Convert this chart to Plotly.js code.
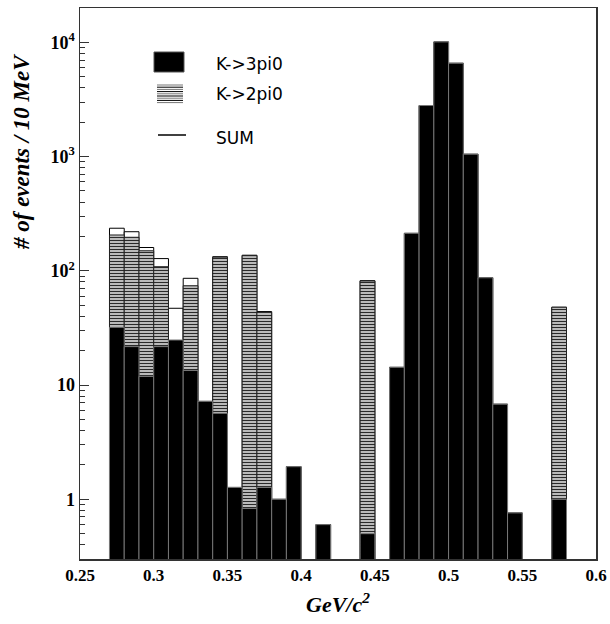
<!DOCTYPE html>
<html>
<head>
<meta charset="utf-8">
<script src="https://cdn.plot.ly/plotly-3.0.1.min.js"></script>
<style>html,body{margin:0;padding:0;background:#fff}#chart{width:610px;height:624px}</style>
</head>
<body>
<div id="chart"></div>
<script>
// bin low edges (GeV/c^2), bin width 0.01
var binLow = [0.27,0.28,0.29,0.30,0.31,0.32,0.33,0.34,0.35,0.36,0.37,0.38,0.39,0.40,0.41,0.42,
              0.43,0.44,0.45,0.46,0.47,0.48,0.49,0.50,0.51,0.52,0.53,0.54,0.55,0.56,0.57];
// K->3pi0 counts
var k3pi0 = [32,21.7,11.9,21.7,24.8,13.4,7.2,5.66,1.27,0.83,1.27,1.0,1.93,null,0.6,null,
             null,0.5,null,14.3,213,2800,10100,6570,1050,87,6.8,0.76,null,null,1.0];
// K->2pi0 counts (stacked on top of K->3pi0)
var k2pi0 = [174,175,138,87,0,60.6,0,126,0,135,42,0,0,0,0,0,
             0,81,0,0,0,0,0,0,0,0,0,0,0,0,47];
// SUM
var sum = [236,220,160,128,47,86,7.2,133,1.27,137,44,1.0,1.93,null,0.6,null,
           null,82,null,14.3,213,2800,10100,6570,1050,87,6.8,0.76,null,null,48];
var binWidth = 0.01;

var centers = binLow.map(function(v){return +(v + binWidth/2).toFixed(4);});
var stacked = k2pi0.map(function(v,i){
  if (!v) return null;
  return (k3pi0[i] || 0) + v;
});

var traces = [
  {type:'bar', x:centers, y:sum, width:binWidth, name:'SUM',
   marker:{color:'#ffffff', line:{color:'#000', width:1}}, showlegend:false},
  {type:'bar', x:centers, y:stacked, width:binWidth, name:'K->2pi0',
   marker:{color:'#ffffff', pattern:{shape:'-', fgcolor:'#2a2a2a', bgcolor:'#ffffff', size:3, solidity:0.55},
           line:{color:'#222', width:1}}, showlegend:false},
  {type:'bar', x:centers, y:k3pi0, width:binWidth, name:'K->3pi0',
   marker:{color:'#000000', line:{color:'#777', width:1}}, showlegend:false}
];

var serif = 'Liberation Serif, Times New Roman, serif';
var sans = 'DejaVu Sans, sans-serif';

// legend in plot pixel space -> paper coords
var L = 80, T = 8, W = 516, H = 551;
function px(x){return (x - L)/W;}
function py(y){return (T + H - y)/H;}

var shapes = [
  {type:'rect', xref:'paper', yref:'paper', x0:px(154), x1:px(184), y0:py(72), y1:py(52),
   fillcolor:'#000', line:{color:'#555', width:1}},
  {type:'line', xref:'paper', yref:'paper', x0:px(158), x1:px(186), y0:py(135), y1:py(135),
   line:{color:'#000', width:1.5}}
];
for (var k = 0; k < 9; k++) {
  var yy = 85 + k*2.2;
  shapes.push({type:'line', xref:'paper', yref:'paper', x0:px(157), x1:px(183), y0:py(yy), y1:py(yy),
               line:{color: k%2 ? '#000' : '#777', width:1}});
}

var annotations = [
  {xref:'paper', yref:'paper', x:px(214), y:py(64), xanchor:'left', yanchor:'middle', showarrow:false,
   text:'K->3pi0', font:{family:sans, size:17, color:'#000'}},
  {xref:'paper', yref:'paper', x:px(214), y:py(94), xanchor:'left', yanchor:'middle', showarrow:false,
   text:'K->2pi0', font:{family:sans, size:17, color:'#000'}},
  {xref:'paper', yref:'paper', x:px(214), y:py(138), xanchor:'left', yanchor:'middle', showarrow:false,
   text:'SUM', font:{family:sans, size:17, color:'#000'}},
  {xref:'paper', yref:'paper', x:px(21), y:py(152), xanchor:'center', yanchor:'middle', showarrow:false,
   textangle:-90, text:'<b><i># of events / 10 MeV</i></b>', font:{family:serif, size:23, color:'#000'}},
  {xref:'paper', yref:'paper', x:px(338), y:py(603), xanchor:'center', yanchor:'middle', showarrow:false,
   text:'<b><i>GeV/c<sup>2</sup></i></b>', font:{family:serif, size:22, color:'#000'}}
];

var layout = {
  width:610, height:624,
  margin:{l:80, r:14, t:8, b:65},
  paper_bgcolor:'#fff', plot_bgcolor:'#fff',
  barmode:'overlay', bargap:0,
  showlegend:false,
  xaxis:{range:[0.25,0.6], tickvals:[0.25,0.3,0.35,0.4,0.45,0.5,0.55,0.6],
         ticktext:['0.25','0.3','0.35','0.4','0.45','0.5','0.55','0.6'],
         ticks:'', showgrid:false, zeroline:false, showline:true, mirror:true,
         linecolor:'#333', linewidth:1.5,
         tickfont:{family:serif, size:17, color:'#000', weight:'bold'}},
  yaxis:{type:'log', range:[Math.log10(0.3), Math.log10(20000)],
         tickvals:[1,10,100,1000,10000],
         ticktext:['1','10','10<sup>2</sup>','10<sup>3</sup>','10<sup>4</sup>'],
         ticks:'inside', ticklen:9, tickcolor:'#333', tickwidth:1,
         minor:{ticks:'inside', ticklen:5, tickcolor:'#333', dtick:'D1', showgrid:false},
         showgrid:false, zeroline:false, showline:true, mirror:true,
         linecolor:'#333', linewidth:1.5,
         tickfont:{family:serif, size:18, color:'#000', weight:'bold'}},
  shapes:shapes,
  annotations:annotations
};

Plotly.newPlot('chart', traces, layout, {displayModeBar:false, staticPlot:true});
</script>
</body>
</html>
